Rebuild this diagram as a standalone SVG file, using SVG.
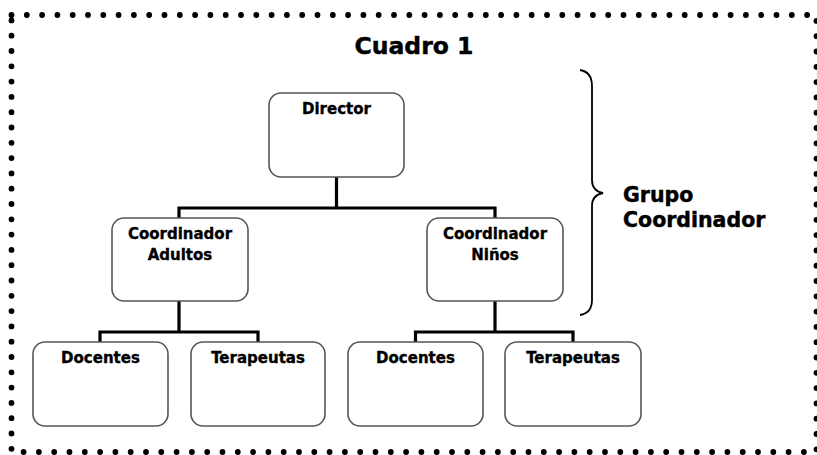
<svg xmlns="http://www.w3.org/2000/svg" width="817" height="455" viewBox="0 0 817 455">
<style>
.frame{fill:none;stroke:#000;stroke-width:5.8;stroke-dasharray:0 15.3;stroke-linecap:round}
.box{fill:#fff;stroke:#555;stroke-width:1.6}
.conn{fill:none;stroke:#000;stroke-width:3.2}
.lbl{font-family:"DejaVu Sans",Verdana,sans-serif;font-weight:bold;font-size:15px;text-anchor:middle;fill:#000;stroke:#000;stroke-width:0.35}
.big{font-family:"DejaVu Sans",Verdana,sans-serif;font-weight:bold;fill:#000;stroke:#000;stroke-width:0.45}
</style>
<rect width="817" height="455" fill="#fff"/>
<rect class="frame" x="11.5" y="15" width="805" height="437"/>
<text class="big" x="414" y="54" font-size="23.5" text-anchor="middle">Cuadro 1</text>
<g id="connectors">
<path class="conn" d="M336.5 177 V208 M179 218 V208 H495 V218"/>
<path class="conn" d="M179 301 V332 M100 342 V332 H258 V342"/>
<path class="conn" d="M495 301 V332 M415.5 342 V332 H573 V342"/>
</g>
<g id="brace">
<path d="M580 70 Q592 72 592 86 V180 Q592 191 603 193 Q592 195 592 206 V300 Q592 313 580 315" fill="none" stroke="#000" stroke-width="1.8"/>
<text class="big" x="623" y="202" font-size="20.5">Grupo</text>
<text class="big" x="623" y="227" font-size="20.5">Coordinador</text>
</g>
<g id="director">
<rect class="box" x="269" y="93" width="135" height="84" rx="12"/>
<text class="lbl" x="336.5" y="114">Director</text>
</g>
<g id="coord-adultos">
<rect class="box" x="112" y="218" width="136" height="83" rx="12"/>
<text class="lbl" x="180" y="239">Coordinador</text>
<text class="lbl" x="180" y="260">Adultos</text>
</g>
<g id="coord-ninos">
<rect class="box" x="427" y="218" width="136" height="83" rx="12"/>
<text class="lbl" x="495" y="239">Coordinador</text>
<text class="lbl" x="495" y="260">Niños</text>
</g>
<g id="docentes-1">
<rect class="box" x="33" y="342" width="135" height="84" rx="12"/>
<text class="lbl" x="100.5" y="363">Docentes</text>
</g>
<g id="terapeutas-1">
<rect class="box" x="191" y="342" width="134" height="84" rx="12"/>
<text class="lbl" x="258" y="363">Terapeutas</text>
</g>
<g id="docentes-2">
<rect class="box" x="348" y="342" width="135" height="84" rx="12"/>
<text class="lbl" x="415.5" y="363">Docentes</text>
</g>
<g id="terapeutas-2">
<rect class="box" x="505" y="342" width="136" height="84" rx="12"/>
<text class="lbl" x="573" y="363">Terapeutas</text>
</g>
</svg>
